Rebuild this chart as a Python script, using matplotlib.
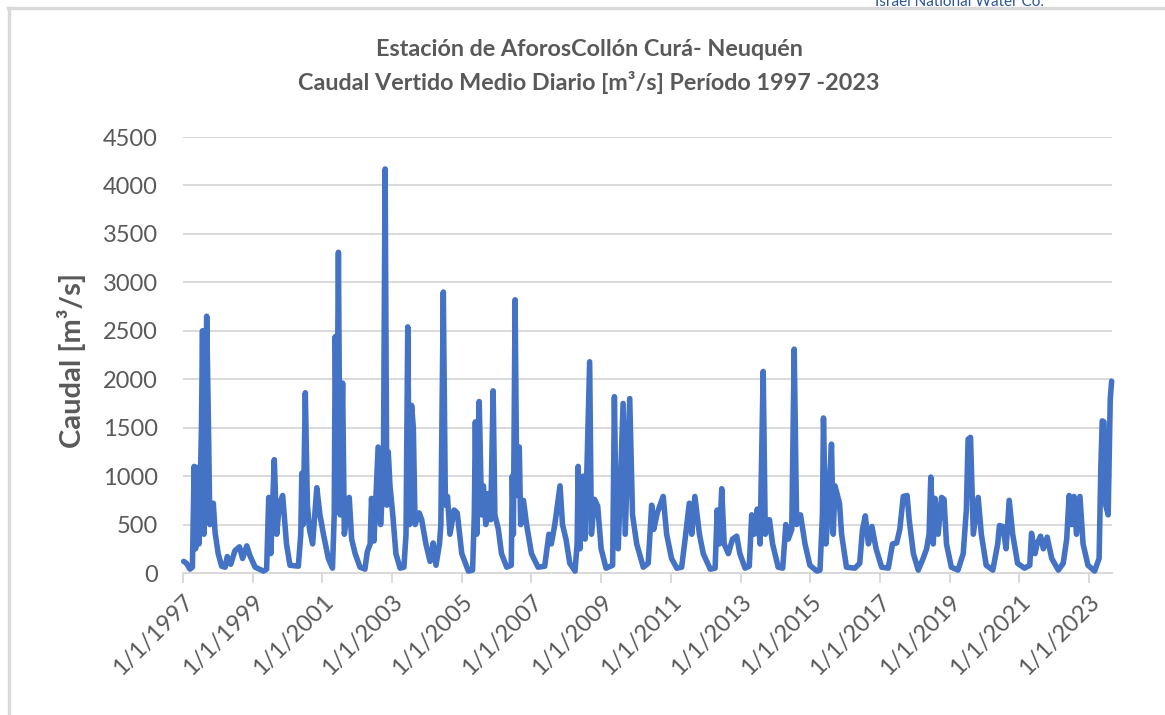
import matplotlib
matplotlib.use("Agg")  # headless
import matplotlib.pyplot as plt
from matplotlib.lines import Line2D

# --- Datos (año decimal, caudal m3/s) ----------------------------------------
anio = [
    1997.02, 1997.10, 1997.20, 1997.27, 1997.32, 1997.36, 1997.40, 1997.46, 1997.53, 1997.56,
    1997.60, 1997.68, 1997.74, 1997.77, 1997.87, 1997.92,
    1998.01, 1998.11, 1998.21, 1998.27, 1998.37, 1998.49, 1998.62, 1998.71, 1998.83, 1998.92,
    1999.07, 1999.31, 1999.40, 1999.46, 1999.52, 1999.62, 1999.69, 1999.76, 1999.86, 1999.97,
    2000.07, 2000.31, 2000.38, 2000.41, 2000.45, 2000.51, 2000.57, 2000.63, 2000.72, 2000.84,
    2000.93,
    2001.03, 2001.17, 2001.29, 2001.34, 2001.37, 2001.41, 2001.46, 2001.51, 2001.58, 2001.63,
    2001.77, 2001.84, 2001.94,
    2002.08, 2002.22, 2002.29, 2002.37, 2002.41, 2002.48, 2002.60, 2002.67, 2002.75, 2002.80,
    2002.85, 2002.89, 2002.94,
    2003.02, 2003.11, 2003.23, 2003.34, 2003.40, 2003.45, 2003.50, 2003.56, 2003.61, 2003.66,
    2003.78, 2003.85, 2003.97,
    2004.09, 2004.18, 2004.26, 2004.36, 2004.40, 2004.47, 2004.53, 2004.59, 2004.66, 2004.78,
    2004.87,
    2005.00, 2005.19, 2005.31, 2005.36, 2005.39, 2005.43, 2005.50, 2005.57, 2005.62, 2005.69,
    2005.76, 2005.83, 2005.90, 2005.95,
    2006.05, 2006.14, 2006.29, 2006.42, 2006.45, 2006.48, 2006.53, 2006.58, 2006.65, 2006.69,
    2006.77, 2006.86,
    2007.00, 2007.19, 2007.38, 2007.50, 2007.57, 2007.67, 2007.82, 2007.89, 2007.99,
    2008.10, 2008.25, 2008.31, 2008.34, 2008.39, 2008.49, 2008.54, 2008.67, 2008.72, 2008.81,
    2008.90,
    2009.00, 2009.14, 2009.33, 2009.38, 2009.44, 2009.49, 2009.63, 2009.69, 2009.82, 2009.90,
    2010.02, 2010.21, 2010.35, 2010.45, 2010.51, 2010.61, 2010.69, 2010.78, 2010.88,
    2011.02, 2011.17, 2011.31, 2011.41, 2011.53, 2011.60, 2011.69, 2011.82, 2011.93,
    2012.13, 2012.27, 2012.33, 2012.39, 2012.46, 2012.53, 2012.65, 2012.77, 2012.89, 2012.98,
    2013.13, 2013.25, 2013.32, 2013.39, 2013.48, 2013.56, 2013.65, 2013.71, 2013.83, 2013.92,
    2014.08, 2014.21, 2014.30, 2014.37, 2014.47, 2014.54, 2014.61, 2014.72, 2014.85, 2014.99,
    2015.19, 2015.28, 2015.35, 2015.38, 2015.45, 2015.51, 2015.61, 2015.66, 2015.71, 2015.84,
    2015.90,
    2016.04, 2016.28, 2016.42, 2016.50, 2016.58, 2016.67, 2016.77, 2016.89,
    2017.05, 2017.24, 2017.36, 2017.48, 2017.57, 2017.67, 2017.78, 2017.84, 2017.96,
    2018.10, 2018.24, 2018.34, 2018.41, 2018.46, 2018.53, 2018.58, 2018.67, 2018.77, 2018.84,
    2018.91,
    2019.05, 2019.24, 2019.39, 2019.48, 2019.53, 2019.60, 2019.68, 2019.82, 2019.91,
    2020.05, 2020.24, 2020.38, 2020.43, 2020.53, 2020.62, 2020.71, 2020.81, 2020.95,
    2021.15, 2021.30, 2021.35, 2021.45, 2021.51, 2021.61, 2021.69, 2021.80, 2021.93,
    2022.12, 2022.26, 2022.36, 2022.43, 2022.50, 2022.57, 2022.64, 2022.74, 2022.83, 2022.97,
    2023.16, 2023.29, 2023.34, 2023.38, 2023.43, 2023.48, 2023.55, 2023.61, 2023.65,
]

caudal = [
    120, 100, 40, 60, 1100, 250, 1090, 300, 1500, 2500,
    400, 2650, 1300, 500, 720, 420,
    200, 70, 60, 170, 90, 230, 270, 150, 280, 180,
    60, 20, 40, 780, 200, 1170, 400, 700, 800, 300,
    80, 70, 400, 1030, 500, 1860, 700, 450, 300, 880,
    600,
    400, 150, 50, 600, 2440, 900, 3310, 600, 1960, 400,
    780, 350, 200,
    60, 40, 220, 300, 770, 330, 1300, 500, 1000, 4170,
    700, 1250, 900,
    600, 200, 50, 60, 400, 2540, 500, 1730, 1500, 500,
    620, 550, 300,
    120, 310, 80, 300, 500, 2900, 700, 790, 400, 650,
    620,
    200, 20, 30, 600, 1560, 400, 1770, 600, 900, 500,
    820, 550, 1880, 600,
    450, 200, 60, 80, 1000, 400, 2820, 800, 1300, 500,
    750, 500,
    200, 60, 70, 400, 300, 500, 900, 500, 350,
    100, 20, 300, 1100, 250, 1000, 350, 2180, 400, 760,
    690,
    250, 50, 80, 1820, 300, 250, 1750, 400, 1800, 600,
    300, 60, 100, 700, 450, 620, 700, 790, 400,
    150, 50, 60, 350, 720, 400, 790, 400, 200,
    40, 50, 650, 300, 870, 300, 200, 350, 380, 200,
    50, 70, 600, 400, 660, 300, 2080, 400, 550, 300,
    60, 50, 500, 350, 450, 2310, 500, 600, 300, 80,
    20, 30, 600, 1600, 300, 600, 1330, 400, 900, 720,
    400,
    60, 50, 100, 450, 590, 300, 480, 250,
    60, 50, 300, 310, 450, 790, 800, 550, 200,
    30, 150, 250, 400, 990, 300, 770, 400, 780, 760,
    300,
    60, 30, 200, 650, 1380, 1400, 400, 780, 400,
    80, 30, 300, 490, 480, 250, 750, 400, 100,
    50, 80, 410, 200, 300, 380, 250, 370, 150,
    30, 100, 350, 800, 500, 790, 400, 790, 300, 80,
    20, 150, 1100, 1570, 1560, 700, 600, 1800, 1980,
]

anios_ticks = list(range(1997, 2024, 2))
etiquetas_x = [f"1/1/{a}" for a in anios_ticks]
y_ticks = list(range(0, 4501, 500))

TITULO_1 = "Estación de AforosCollón Curá- Neuquén"
TITULO_2 = "Caudal Vertido Medio Diario [m³/s] Período 1997 -2023"

GRIS_TXT = "#595959"
GRIS_LIN = "#D9D9D9"
AZUL = "#4472C4"
FUENTE = ["Lato", "DejaVu Sans"]

plt.rcParams["font.family"] = FUENTE

W, H = 1165, 715
fig = plt.figure(figsize=(W / 100, H / 100), dpi=100)
fig.patch.set_facecolor("white")

# marco gris recortado (solo izquierda y arriba visibles)
fig.add_artist(Line2D([9 / W, 9 / W], [0, 1 - 8 / H], color=GRIS_LIN, lw=2.4))
fig.add_artist(Line2D([8 / W, 1], [1 - 8 / H, 1 - 8 / H], color=GRIS_LIN, lw=2.4))
# texto azul cortado en el borde superior, como en el original
fig.text(875 / W, 1 - 6 / H, "Israel National Water Co.", color="#2F5597",
         fontsize=11, va="baseline", ha="left")

ax = fig.add_axes([183 / W, 1 - 573 / H, (1112 - 183) / W, (573 - 137) / H])
ax.plot(anio, caudal, color=AZUL, lw=4.0, solid_joinstyle="round",
        solid_capstyle="round", clip_on=False, zorder=3)

ax.set_xlim(1997, 2023.66)
ax.set_ylim(0, 4500)
ax.set_yticks(y_ticks)
ax.set_xticks(anios_ticks)
ax.set_xticklabels(etiquetas_x, rotation=45, ha="right", va="top",
                   rotation_mode="anchor")

ax.grid(axis="y", color=GRIS_LIN, lw=1.4)
ax.set_axisbelow(True)
for lado in ["left", "right", "top"]:
    ax.spines[lado].set_visible(False)
ax.spines["bottom"].set_color(GRIS_LIN)
ax.spines["bottom"].set_linewidth(1.4)

ax.tick_params(axis="y", length=0, pad=18, labelsize=17, labelcolor=GRIS_TXT)
ax.tick_params(axis="x", length=7, width=1.4, color=GRIS_LIN, pad=6,
               labelsize=17, labelcolor=GRIS_TXT)

fig.text(72 / W, 1 - 360 / H, "Caudal [m³/s]", rotation=90, fontsize=21,
         fontweight="bold", color=GRIS_TXT, ha="center", va="center")

fig.text(589 / W, 1 - 50 / H, TITULO_1, fontsize=16.8, fontweight="bold",
         color=GRIS_TXT, ha="center", va="center")
fig.text(589 / W, 1 - 82 / H, TITULO_2, fontsize=16.8, fontweight="bold",
         color=GRIS_TXT, ha="center", va="center")

fig.savefig("out.png", dpi=100)
